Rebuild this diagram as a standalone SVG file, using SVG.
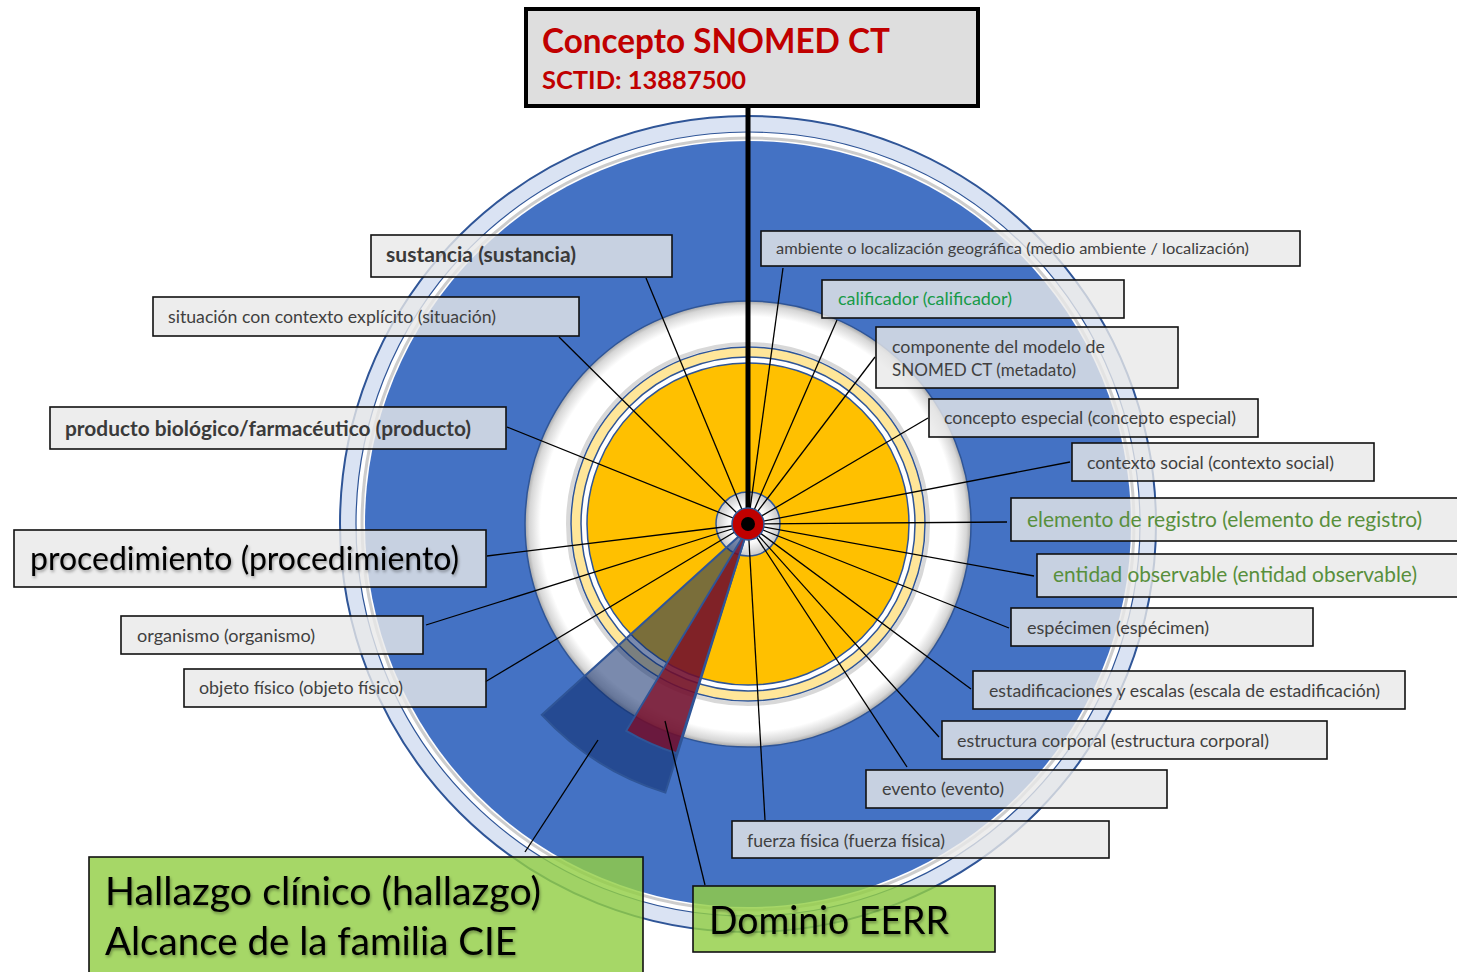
<svg xmlns="http://www.w3.org/2000/svg" width="1457" height="972" viewBox="0 0 1457 972">
<style>
.lbl{fill:#e8e8e8;fill-opacity:0.8;stroke:#111;stroke-width:1.6}
.grn{fill:#93ce45;fill-opacity:0.82;stroke:#111;stroke-width:1.6}
.t{font-family:Lato,"Liberation Sans",sans-serif;fill:#404040;font-size:17px}
.b{font-weight:bold;font-size:20px;fill:#3a3a3a}
.big{fill:#000;font-size:33px}
.huge{fill:#000;font-size:38px}
.g1{fill:#179a48}
.g2{fill:#588f3c;font-size:21px}
.red{font-family:Lato,"Liberation Sans",sans-serif;fill:#c00000;font-weight:bold}
.bl{stroke:#2f5597;stroke-width:1.5}
#connectors line{stroke:#000;stroke-width:1.3}
</style>
<defs>
<radialGradient id="wg" cx="0.5" cy="0.5" r="0.5">
<stop offset="0" stop-color="#fff"/>
<stop offset="0.93" stop-color="#fff"/>
<stop offset="0.98" stop-color="#d6d6d6"/>
<stop offset="1" stop-color="#a8a8a8"/>
</radialGradient>
<radialGradient id="cg" cx="0.5" cy="0.5" r="0.5">
<stop offset="0" stop-color="#fff"/>
<stop offset="0.6" stop-color="#fafafa"/>
<stop offset="1" stop-color="#c8c8c8"/>
</radialGradient>
<filter id="ts" x="-5%" y="-20%" width="110%" height="150%">
<feDropShadow dx="1" dy="2" stdDeviation="1.5" flood-color="#000" flood-opacity="0.35"/>
</filter>
</defs>
<rect width="1457" height="972" fill="#fff"/>

<g id="rings">
<circle cx="748" cy="524" r="408" fill="#dae3f3" stroke="#2f5597" stroke-width="2"/>
<circle cx="748" cy="524" r="392" fill="#fff" stroke="#2f5597" stroke-width="1.2"/>
<circle cx="748" cy="524" r="386" fill="none" stroke="#b8b8b8" stroke-width="3" stroke-opacity="0.7"/>
<circle cx="748" cy="524" r="383" fill="#4472c4"/>
<circle cx="748" cy="524" r="223" fill="url(#wg)" class="bl"/>
<circle cx="748" cy="524" r="180" fill="none" stroke="#c8c8c8" stroke-width="4" stroke-opacity="0.7"/>
<circle cx="748" cy="524" r="177" fill="#ffe699" class="bl"/>
<circle cx="748" cy="524" r="167" fill="#fff" class="bl"/>
<circle cx="748" cy="524" r="161" fill="#ffc000" class="bl"/>
<circle cx="748" cy="524" r="32" fill="url(#cg)" class="bl"/>
</g>

<g id="wedges">
<path d="M748,528 L665.4,792.6 A281,281 0 0,1 541.8,714.9 Z" fill="#0c2a6a" fill-opacity="0.55" stroke="#2f5597" stroke-width="2"/>
<path d="M748,528 L676.6,753.2 A240,240 0 0,1 626.2,730.8 Z" fill="#830820" fill-opacity="0.74" stroke="#2f5597" stroke-width="2"/>
</g>

<g id="connectors">
<line x1="748" y1="524" x2="646" y2="278"/>
<line x1="748" y1="524" x2="559" y2="337"/>
<line x1="748" y1="524" x2="507" y2="427"/>
<line x1="748" y1="524" x2="487" y2="556"/>
<line x1="748" y1="524" x2="426" y2="625"/>
<line x1="748" y1="524" x2="485" y2="682"/>
<line x1="748" y1="524" x2="783" y2="268"/>
<line x1="748" y1="524" x2="837" y2="320"/>
<line x1="748" y1="524" x2="875" y2="357"/>
<line x1="748" y1="524" x2="928" y2="418"/>
<line x1="748" y1="524" x2="1070" y2="462"/>
<line x1="748" y1="524" x2="1007" y2="522"/>
<line x1="748" y1="524" x2="1034" y2="576"/>
<line x1="748" y1="524" x2="1009" y2="628"/>
<line x1="748" y1="524" x2="971" y2="689"/>
<line x1="748" y1="524" x2="939" y2="737"/>
<line x1="748" y1="524" x2="907" y2="767"/>
<line x1="748" y1="524" x2="765" y2="820"/>
<line x1="598" y1="740" x2="525" y2="852"/>
<line x1="665" y1="721" x2="705" y2="885"/>
<line x1="748" y1="107" x2="748" y2="524" style="stroke-width:5"/>
</g>

<g id="center">
<circle cx="748" cy="524" r="16" fill="#c00000" class="bl"/>
<circle cx="748" cy="524" r="7" fill="#000"/>
</g>

<g id="title">
<rect x="526" y="9" width="452" height="97" fill="#dedede" stroke="#000" stroke-width="4"/>
<text class="red" x="542" y="53" font-size="34" textLength="348" lengthAdjust="spacingAndGlyphs">Concepto SNOMED CT</text>
<text class="red" x="542" y="89" font-size="25" textLength="204" lengthAdjust="spacingAndGlyphs">SCTID: 13887500</text>
</g>

<g id="n-sustancia"><rect class="lbl" x="371" y="235" width="301" height="42"/><text class="t b" x="386" y="262" textLength="190" lengthAdjust="spacingAndGlyphs">sustancia (sustancia)</text></g>
<g id="n-situacion"><rect class="lbl" x="153" y="297" width="426" height="39"/><text class="t" x="168" y="323" textLength="328" lengthAdjust="spacingAndGlyphs">situación con contexto explícito (situación)</text></g>
<g id="n-producto"><rect class="lbl" x="50" y="407" width="456" height="42"/><text class="t b" x="65" y="436" textLength="406" lengthAdjust="spacingAndGlyphs">producto biológico/farmacéutico (producto)</text></g>
<g id="n-procedimiento"><rect class="lbl" x="14" y="530" width="472" height="57"/><text class="t big" x="30" y="570" textLength="429" lengthAdjust="spacingAndGlyphs" filter="url(#ts)">procedimiento (procedimiento)</text></g>
<g id="n-organismo"><rect class="lbl" x="121" y="616" width="302" height="38"/><text class="t" x="137" y="642" textLength="178" lengthAdjust="spacingAndGlyphs">organismo (organismo)</text></g>
<g id="n-objeto"><rect class="lbl" x="184" y="669" width="302" height="38"/><text class="t" x="199" y="694" textLength="204" lengthAdjust="spacingAndGlyphs">objeto físico (objeto físico)</text></g>

<g id="n-ambiente"><rect class="lbl" x="761" y="231" width="539" height="35"/><text class="t" x="776" y="254" font-size="16" textLength="473" lengthAdjust="spacingAndGlyphs" style="font-size:16px">ambiente o localización geográfica (medio ambiente / localización)</text></g>
<g id="n-calificador"><rect class="lbl" x="822" y="280" width="302" height="38"/><text class="t g1" x="838" y="305" textLength="174" lengthAdjust="spacingAndGlyphs">calificador (calificador)</text></g>
<g id="n-componente"><rect class="lbl" x="876" y="327" width="302" height="61"/><text class="t" x="892" y="353" textLength="213" lengthAdjust="spacingAndGlyphs">componente del modelo de</text><text class="t" x="892" y="376" textLength="184" lengthAdjust="spacingAndGlyphs">SNOMED CT (metadato)</text></g>
<g id="n-concepto"><rect class="lbl" x="929" y="399" width="329" height="38"/><text class="t" x="944" y="424" textLength="292" lengthAdjust="spacingAndGlyphs">concepto especial (concepto especial)</text></g>
<g id="n-contexto"><rect class="lbl" x="1072" y="443" width="302" height="38"/><text class="t" x="1087" y="469" textLength="247" lengthAdjust="spacingAndGlyphs">contexto social (contexto social)</text></g>
<g id="n-elemento"><rect class="lbl" x="1011" y="498" width="460" height="43"/><text class="t g2" x="1027" y="527" textLength="395" lengthAdjust="spacingAndGlyphs">elemento de registro (elemento de registro)</text></g>
<g id="n-entidad"><rect class="lbl" x="1037" y="554" width="434" height="43"/><text class="t g2" x="1053" y="582" textLength="364" lengthAdjust="spacingAndGlyphs">entidad observable (entidad observable)</text></g>
<g id="n-especimen"><rect class="lbl" x="1011" y="608" width="302" height="38"/><text class="t" x="1027" y="634" textLength="182" lengthAdjust="spacingAndGlyphs">espécimen (espécimen)</text></g>
<g id="n-estadificaciones"><rect class="lbl" x="973" y="671" width="432" height="38"/><text class="t" x="989" y="697" textLength="391" lengthAdjust="spacingAndGlyphs">estadificaciones y escalas (escala de estadificación)</text></g>
<g id="n-estructura"><rect class="lbl" x="942" y="721" width="385" height="38"/><text class="t" x="957" y="747" textLength="312" lengthAdjust="spacingAndGlyphs">estructura corporal (estructura corporal)</text></g>
<g id="n-evento"><rect class="lbl" x="866" y="770" width="301" height="38"/><text class="t" x="882" y="795" textLength="122" lengthAdjust="spacingAndGlyphs">evento (evento)</text></g>
<g id="n-fuerza"><rect class="lbl" x="732" y="821" width="377" height="37"/><text class="t" x="747" y="847" textLength="198" lengthAdjust="spacingAndGlyphs">fuerza física (fuerza física)</text></g>

<g id="n-hallazgo"><rect class="grn" x="89" y="857" width="554" height="125"/><text class="t huge" x="105" y="905" textLength="436" lengthAdjust="spacingAndGlyphs" filter="url(#ts)">Hallazgo clínico (hallazgo)</text><text class="t huge" x="105" y="955" textLength="412" lengthAdjust="spacingAndGlyphs" filter="url(#ts)">Alcance de la familia CIE</text></g>
<g id="n-dominio"><rect class="grn" x="693" y="886" width="302" height="66"/><text class="t huge" x="709" y="934" textLength="240" lengthAdjust="spacingAndGlyphs" filter="url(#ts)">Dominio EERR</text></g>
</svg>
